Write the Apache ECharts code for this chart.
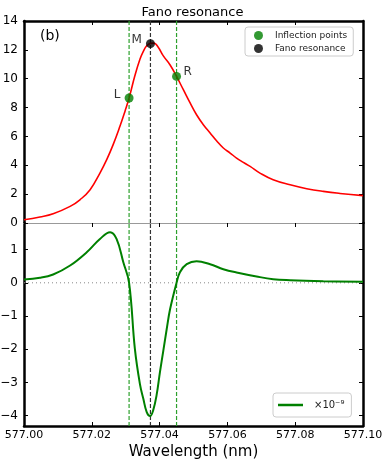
<!DOCTYPE html>
<html><head><meta charset="utf-8">
<script src="https://cdn.jsdelivr.net/npm/echarts@6/dist/echarts.min.js"></script>
<style>html,body{margin:0;padding:0;background:#fff}#c{width:385px;height:465px}</style>
</head><body><div id="c"></div>
<script>
// Fano intensity (top panel)
const redWl  = [577.0000,577.0047,577.0086,577.0136,577.0165,577.0195,577.0224,577.0244,577.0263,577.0283,577.0298,577.0310,577.0327,577.0342,577.0352,577.0362,577.0373,577.0383,577.0395,577.0411,577.0431,577.0450,577.0470,577.0490,577.0509,577.0529,577.0549,577.0568,577.0588,577.0608,577.0627,577.0647,577.0667,577.0696,577.0735,577.0785,577.0834,577.0883,577.0932,577.1000];
const redVal = [0.23,0.42,0.64,1.15,1.61,2.31,3.46,4.39,5.43,6.70,7.75,8.66,10.20,11.35,11.90,12.28,12.45,12.47,12.22,11.58,10.95,10.16,9.24,8.32,7.50,6.81,6.24,5.70,5.20,4.85,4.50,4.20,3.92,3.46,3.00,2.65,2.38,2.19,2.05,1.90];
// second derivative (bottom panel, x1e-9)
const derivWl  = [577.0000,577.0047,577.0086,577.0136,577.0185,577.0224,577.0254,577.0273,577.0293,577.0310,577.0327,577.0342,577.0352,577.0362,577.0372,577.0381,577.0391,577.0401,577.0411,577.0421,577.0431,577.0450,577.0460,577.0480,577.0509,577.0549,577.0588,577.0627,577.0686,577.0735,577.0785,577.0883,577.1000];
const derivVal = [0.10,0.15,0.25,0.52,0.92,1.32,1.52,1.32,0.62,0.00,-1.98,-3.05,-3.49,-3.89,-4.01,-3.84,-3.39,-2.69,-2.04,-1.39,-0.79,0.00,0.32,0.56,0.65,0.56,0.41,0.31,0.19,0.11,0.08,0.05,0.03];
// marked points
const inflWl = [577.0310, 577.0450];
const inflVal = [8.66, 10.16];
const inflLabels = ['L', 'R'];
const peakWl = [577.0373];
const peakVal = [12.43];
const peakLabels = ['M'];
// ticks / ranges
const xMin = 577.00, xMax = 577.10, xStep = 0.02;
const topYRange = [0, 14];
const bottomYRange = [-4.31, 1.80];
const topYTicks = [0, 2, 4, 6, 8, 10, 12, 14];
const bottomYTicks = [-4, -3, -2, -1, 0, 1];

const FONT = 'DejaVu Sans';
const pair = (xs, ys) => xs.map((x, i) => [x, ys[i]]);
const fmtY = v => v < 0 ? '\u2212' + Math.abs(v) : String(v);

const chart = echarts.init(document.getElementById('c'), null, {renderer: 'canvas'});
const blackAxis = {onZero: false, lineStyle: {color: '#000', width: 2.5}};
const grayAxis = {onZero: false, lineStyle: {color: '#999', width: 1}};
const tickIn = {show: true, inside: true, length: 4, lineStyle: {color: '#000', width: 1}};
const xBase = {type: 'value', min: xMin, max: xMax, interval: xStep, splitLine: {show: false}};

function vLine(x, color, xi, yi, range) {
  return {type: 'line', xAxisIndex: xi, yAxisIndex: yi, data: [[x, range[0]], [x, range[1]]],
    showSymbol: false, silent: true, z: 2, lineStyle: {color: color, type: [4, 2], width: 1.2}};
}
const markSeries = [];
[[0, 0, topYRange], [2, 2, bottomYRange]].forEach(([xi, yi, r]) => {
  markSeries.push(vLine(inflWl[0], '#2ca02c', xi, yi, r));
  markSeries.push(vLine(peakWl[0], '#333', xi, yi, r));
  markSeries.push(vLine(inflWl[1], '#2ca02c', xi, yi, r));
});
markSeries.push({type: 'line', xAxisIndex: 2, yAxisIndex: 2, data: [[xMin, 0], [xMax, 0]], showSymbol: false, silent: true, z: 1,
  lineStyle: {color: '#888', type: [1, 3], width: 1}});

const option = {
  animation: false,
  backgroundColor: '#fff',
  textStyle: {fontFamily: FONT},
  title: {text: 'Fano resonance', left: 'center', top: 1,
    textStyle: {fontFamily: FONT, fontSize: 13, fontWeight: 'normal', color: '#000'}},
  graphic: [{type: 'text', left: 40, top: 29, style: {text: '(b)', font: '14px "DejaVu Sans"', fill: '#000'}}],
  legend: [
    {data: [{name: 'Inflection points', icon: 'circle'}, {name: 'Fano resonance', icon: 'circle'}],
      orient: 'vertical', left: 245, top: 27, itemWidth: 9, itemHeight: 9, itemGap: 4,
      padding: [4, 6, 3, 9], borderColor: '#ccc', borderWidth: 1, borderRadius: 3,
      textStyle: {fontFamily: FONT, fontSize: 9, color: '#222', padding: [0, 0, 0, 7]}},
    {data: [{name: '\u00d710\u207b\u2079', icon: 'rect'}],
      left: 273, top: 393, itemWidth: 25, itemHeight: 2.5, itemGap: 5,
      padding: [7, 7, 7, 5], borderColor: '#ccc', borderWidth: 1, borderRadius: 3,
      textStyle: {fontFamily: FONT, fontSize: 10, color: '#222', padding: [0, 0, 0, 6]}}
  ],
  grid: [
    {left: 24, top: 21, width: 339, height: 202, containLabel: false, outerBoundsMode: 'none'},
    {left: 24, top: 223, width: 339, height: 203, containLabel: false, outerBoundsMode: 'none'}
  ],
  xAxis: [
    Object.assign({}, xBase, {gridIndex: 0, position: 'bottom', axisLine: grayAxis, axisTick: {show: false}, axisLabel: {show: false}}),
    Object.assign({}, xBase, {gridIndex: 0, position: 'top', axisLine: blackAxis, axisTick: tickIn, axisLabel: {show: false}}),
    Object.assign({}, xBase, {gridIndex: 1, position: 'bottom', axisLine: blackAxis, axisTick: tickIn,
      axisLabel: {show: true, margin: 4, fontSize: 11, color: '#000', fontFamily: FONT, formatter: v => v.toFixed(2), showMinLabel: true, showMaxLabel: true},
      name: 'Wavelength (nm)', nameLocation: 'middle', nameGap: 19,
      nameTextStyle: {fontFamily: FONT, fontSize: 15, color: '#000'}}),
    Object.assign({}, xBase, {gridIndex: 1, position: 'top', axisLine: grayAxis, axisTick: tickIn, axisLabel: {show: false}})
  ],
  yAxis: [
    {type: 'value', gridIndex: 0, position: 'left', min: topYRange[0], max: topYRange[1], splitLine: {show: false}, axisLine: blackAxis,
      axisTick: Object.assign({}, tickIn, {customValues: topYTicks}),
      axisLabel: {customValues: topYTicks, margin: 6, fontSize: 12, color: '#000', fontFamily: FONT, formatter: fmtY}},
    {type: 'value', gridIndex: 0, position: 'right', min: topYRange[0], max: topYRange[1], splitLine: {show: false}, axisLine: blackAxis,
      axisTick: Object.assign({}, tickIn, {customValues: topYTicks}), axisLabel: {show: false}},
    {type: 'value', gridIndex: 1, position: 'left', min: bottomYRange[0], max: bottomYRange[1], splitLine: {show: false}, axisLine: blackAxis,
      axisTick: Object.assign({}, tickIn, {customValues: bottomYTicks}),
      axisLabel: {customValues: bottomYTicks, margin: 6, fontSize: 12, color: '#000', fontFamily: FONT, formatter: fmtY}},
    {type: 'value', gridIndex: 1, position: 'right', min: bottomYRange[0], max: bottomYRange[1], splitLine: {show: false}, axisLine: blackAxis,
      axisTick: Object.assign({}, tickIn, {customValues: bottomYTicks}), axisLabel: {show: false}}
  ],
  series: markSeries.concat([
    {name: 'Fano', type: 'line', xAxisIndex: 0, yAxisIndex: 0, data: pair(redWl, redVal),
      smooth: 0.45, showSymbol: false, lineStyle: {color: '#ff0000', width: 1.6}, itemStyle: {color: '#ff0000'}, z: 3},
    {name: 'Inflection points', type: 'scatter', xAxisIndex: 0, yAxisIndex: 0, data: pair(inflWl, inflVal),
      symbolSize: 9, itemStyle: {color: '#008000'}, z: 5,
      label: {show: true, fontFamily: FONT, fontSize: 12, color: '#000',
        formatter: p => inflLabels[p.dataIndex]},
      labelLayout: p => p.dataIndex === 0 ? {dx: -12, dy: -3} : {dx: 11, dy: -5}},
    {name: 'Fano resonance', type: 'scatter', xAxisIndex: 0, yAxisIndex: 0, data: pair(peakWl, peakVal),
      symbolSize: 9, itemStyle: {color: '#000'}, z: 5,
      label: {show: true, position: 'left', distance: 4, offset: [0, -4], fontFamily: FONT, fontSize: 12, color: '#000',
        formatter: p => peakLabels[p.dataIndex]}},
    {name: '\u00d710\u207b\u2079', type: 'line', xAxisIndex: 2, yAxisIndex: 2, data: pair(derivWl, derivVal),
      smooth: 0.4, showSymbol: false, lineStyle: {color: '#008000', width: 2}, itemStyle: {color: '#008000'}, z: 3}
  ])
};
chart.setOption(option);
</script>
</body></html>
